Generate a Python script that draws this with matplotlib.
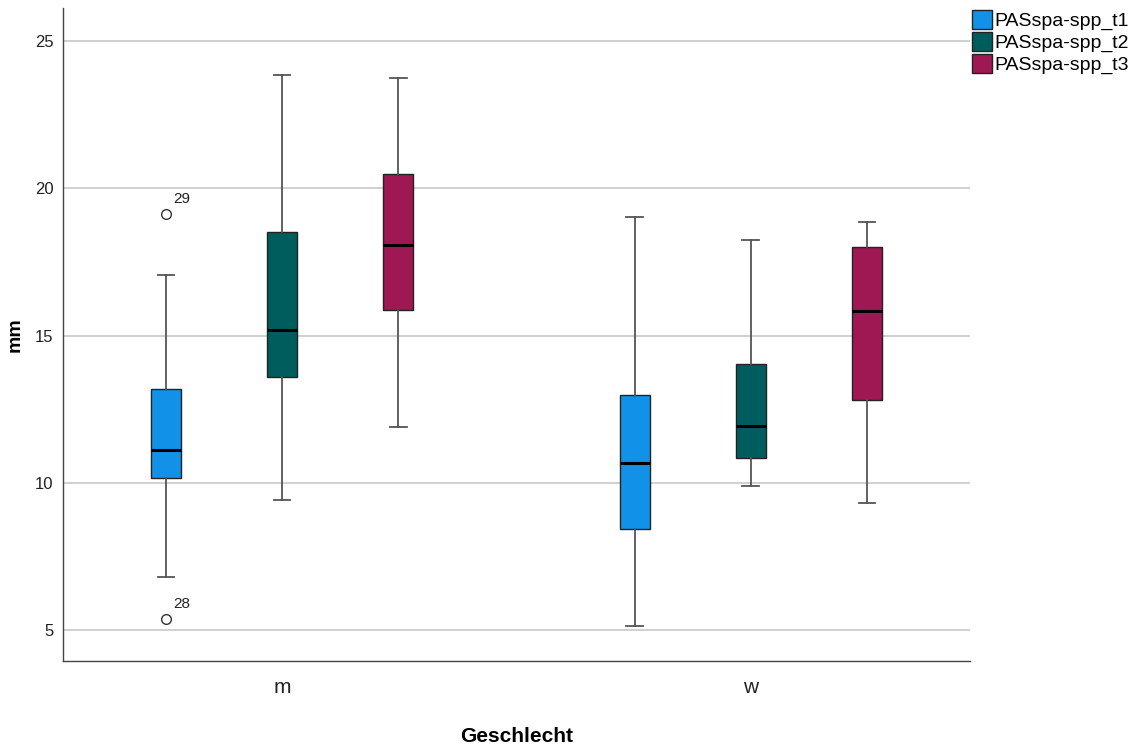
import matplotlib
matplotlib.use("Agg")
import matplotlib.pyplot as plt
from matplotlib.patches import Patch

plt.rcParams['font.family'] = ['Liberation Sans', 'DejaVu Sans']

categories = ["m", "w"]
series = ["PASspa-spp_t1", "PASspa-spp_t2", "PASspa-spp_t3"]
colors = ["#1192e8", "#005d5d", "#9f1853"]

# [whislo, q1, median, q3, whishi] per category, per series
t1_stats = [[6.8, 10.17, 11.12, 13.2, 17.04], [5.14, 8.44, 10.68, 12.99, 19.01]]
t2_stats = [[9.42, 13.6, 15.2, 18.5, 23.84], [9.9, 10.85, 11.94, 14.05, 18.23]]
t3_stats = [[11.9, 15.85, 18.06, 20.48, 23.74], [9.32, 12.82, 15.82, 17.99, 18.84]]
all_stats = [t1_stats, t2_stats, t3_stats]

# outliers: (series index, category index, value, label)
outliers = [(0, 0, 19.12, "29"), (0, 0, 5.37, "28")]

fig = plt.figure(figsize=(11.43, 7.49), dpi=100)
ax = fig.add_axes([0.0551, 0.1175, 0.7935, 0.8718])

offsets = [-0.248, 0.0, 0.248]
width = 0.064

for si, stats_list in enumerate(all_stats):
    bstats = []
    positions = []
    for ci, s in enumerate(stats_list):
        fl = [o[2] for o in outliers if o[0] == si and o[1] == ci]
        bstats.append(dict(whislo=s[0], q1=s[1], med=s[2], q3=s[3], whishi=s[4], fliers=fl))
        positions.append(ci + offsets[si])
    ax.bxp(bstats, positions=positions, widths=width, patch_artist=True,
           showfliers=True,
           boxprops=dict(facecolor=colors[si], edgecolor="#222222", linewidth=1.0),
           medianprops=dict(color="black", linewidth=2.2),
           whiskerprops=dict(color="#555555", linewidth=1.3),
           capprops=dict(color="#555555", linewidth=1.3),
           capwidths=width * 0.55,
           flierprops=dict(marker="o", markerfacecolor="white", markeredgecolor="#333333",
                           markersize=7, markeredgewidth=1.0),
           zorder=3)

for si, ci, v, lab in outliers:
    ax.annotate(lab, (ci + offsets[si], v), xytext=(5, 8), textcoords="offset points",
                fontsize=11, color="#222222")

ax.set_xlim(-0.468, 1.468)
ax.set_ylim(3.95, 26.12)
ax.set_yticks([5, 10, 15, 20, 25])
ax.set_xticks([0, 1])
ax.set_xticklabels(categories, fontsize=15, color="#222222")
ax.tick_params(axis="y", labelsize=12, length=0, pad=7, labelcolor="#222222")
ax.tick_params(axis="x", length=0, pad=12)
ax.yaxis.grid(True, color="#c8c8c8", linewidth=1.2, zorder=0)
ax.set_axisbelow(True)
for sp in ["top", "right"]:
    ax.spines[sp].set_visible(False)
for sp in ["left", "bottom"]:
    ax.spines[sp].set_color("#444444")
    ax.spines[sp].set_linewidth(1.0)

ax.set_ylabel("mm", fontsize=14, fontweight="bold", labelpad=8)
ax.set_xlabel("Geschlecht", fontsize=15, fontweight="bold", labelpad=22)

handles = [Patch(facecolor=c, edgecolor="#222222", label=l) for c, l in zip(colors, series)]
fig.legend(handles=handles, loc="upper left", bbox_to_anchor=(0.844, 0.997),
           frameon=False, fontsize=14, handlelength=1.0, handleheight=1.1,
           handletextpad=0.15, labelspacing=0.1, borderaxespad=0)

fig.savefig("out.png", dpi=100)
